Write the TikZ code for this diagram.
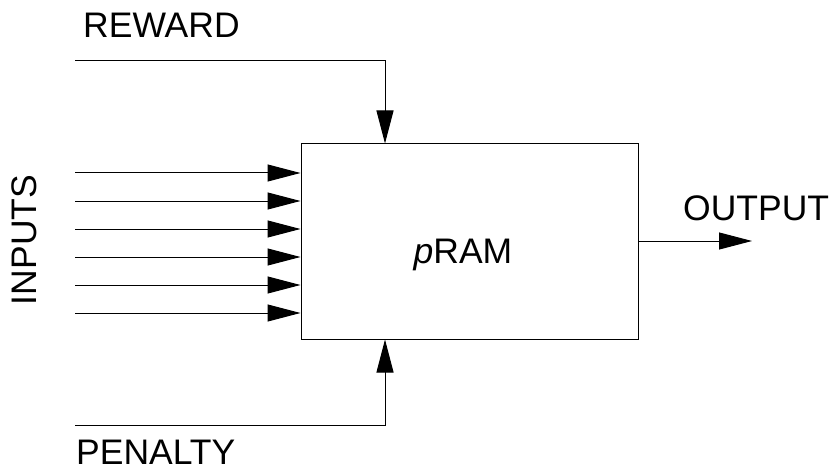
\documentclass[tikz,border=0pt]{standalone}
\usepackage{fontspec}
\setmainfont{Liberation Sans}
\usetikzlibrary{arrows.meta,positioning}

\begin{document}
\begin{tikzpicture}[
        x=1pt, y=-1pt,
        every node/.style={font=\fontsize{35.5}{40}\selectfont, inner sep=0pt},
        unit/.style={rectangle, draw=black, line width=1pt, minimum width=337pt, minimum height=195pt},
        label/.style={anchor=base west},
        arrow/.style={-{Triangle[length=33pt,width=17pt]}, line width=1pt}
      ]
        \useasboundingbox (0,0) rectangle (837,473);
        \node[unit] (pram) at (469.5,241.5) {};
        \node[anchor=base] (pramlabel) at (463,263) {\textit{p}RAM};
        % reward and penalty lines
        \coordinate (rewardin) at (75,61);
        \coordinate (penaltyin) at (75,425);
        \draw[arrow] (rewardin) -| (pram.north -| 385,0);
        \draw[arrow] (penaltyin) -| (pram.south -| 385,0);
        % inputs
        \foreach \i in {0,...,5}{
          \coordinate (in\i) at (75,{173+28*\i});
          \draw[arrow] (in\i) -- (in\i -| pram.west);
        }
        \coordinate (out) at (752,241);
        \draw[arrow] (pram.east |- out) -- (out);
        % labels
        \node[label] (reward) at (83,38) {REWARD};
        \node[label] (penalty) at (76,464) {PENALTY};
        \node[label] (output) at (683,220) {OUTPUT};
        \node[rotate=90] (inputs) at (24,240) {INPUTS};
      \end{tikzpicture}
\end{document}
